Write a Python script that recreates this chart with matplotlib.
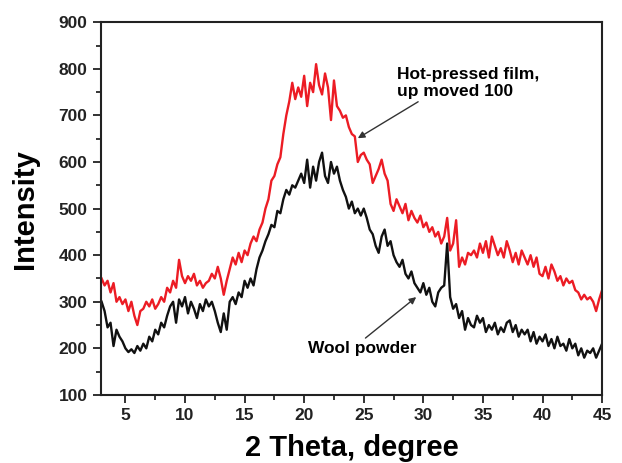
import numpy as np
import matplotlib
matplotlib.use("Agg")
import matplotlib.pyplot as plt
from matplotlib.ticker import MultipleLocator

plt.rcParams['font.family'] = ['Liberation Sans', 'DejaVu Sans']

# 2-theta scan grid, 3..45 deg in 0.25 deg steps
two_theta = np.arange(3.0, 45.001, 0.25)

# wool powder (black)
wool = [
    300, 280, 245, 255, 205, 240, 225, 215,
    200, 192, 198, 190, 205, 195, 210, 200,
    225, 215, 240, 230, 255, 245, 270, 290,
    300, 255, 305, 290, 310, 275, 300, 285,
    265, 295, 280, 305, 290, 300, 280, 255,
    235, 275, 240, 300, 310, 295, 320, 310,
    345, 330, 350, 335, 370, 395, 410, 430,
    445, 465, 460, 495, 490, 520, 540, 530,
    550, 545, 560, 575, 555, 605, 545, 590,
    560, 600, 620, 570, 555, 600, 575, 590,
    560, 540, 525, 500, 515, 490, 500, 485,
    500, 480, 455, 445, 420, 405, 440, 455,
    420, 430, 400, 385, 375, 390, 360, 350,
    365, 340, 330, 320, 340, 315, 330, 300,
    290, 320, 330, 335, 425, 310, 285, 295,
    265, 280, 240, 265, 250, 245, 270, 255,
    265, 235, 250, 240, 255, 230, 245, 235,
    255, 260, 235, 250, 225, 240, 230, 240,
    215, 235, 210, 225, 215, 230, 205, 220,
    200, 225, 205, 210, 195, 220, 200, 210,
    185, 200, 180, 195, 190, 200, 180, 195,
    210,
]

# hot-pressed film, shifted up by 100 (red)
film = [
    350, 335, 345, 320, 340, 300, 310, 295,
    305, 280, 300, 270, 250, 280, 285, 300,
    290, 305, 285, 295, 310, 300, 330, 320,
    345, 330, 390, 355, 340, 355, 345, 360,
    335, 345, 330, 340, 345, 360, 350, 375,
    350, 315, 345, 370, 395, 380, 405, 385,
    410, 400, 425, 440, 430, 455, 470, 500,
    520, 560, 570, 595, 610, 660, 700, 730,
    770, 735, 760, 740, 785, 720, 770, 750,
    810, 765, 745, 790, 760, 690, 775, 720,
    710, 695, 700, 675, 660, 655, 600, 615,
    620, 605, 595, 555, 570, 585, 605, 575,
    560, 510, 495, 520, 505, 490, 510, 475,
    495, 480, 470, 485, 460, 470, 450, 460,
    440, 450, 425, 440, 480, 410, 425, 475,
    375, 395, 380, 405, 400, 410, 395, 425,
    405, 430, 395, 440, 420, 400, 415, 395,
    430, 410, 385, 405, 380, 410, 395, 380,
    400, 375, 395, 360, 355, 375, 350, 380,
    365, 345, 355, 335, 350, 340, 345, 325,
    320, 305, 315, 305, 310, 300, 280, 305,
    325,
]

fig = plt.figure(figsize=(6.22, 4.63), dpi=100)
ax = fig.add_axes([0.162, 0.147, 0.806, 0.805])

ax.plot(two_theta, film, color='#ec1c24', lw=1.7)
ax.plot(two_theta, wool, color='#111111', lw=1.7)

ax.set_xlim(2.93, 45)
ax.set_ylim(100, 900)
ax.xaxis.set_major_locator(MultipleLocator(5))
ax.xaxis.set_minor_locator(MultipleLocator(2.5))
ax.yaxis.set_major_locator(MultipleLocator(100))
ax.yaxis.set_minor_locator(MultipleLocator(50))
ax.tick_params(which='major', direction='out', length=6, width=1.3, labelsize=12.5, colors='#222222')
ax.tick_params(which='minor', direction='out', length=3.5, width=1.1)
for lab in ax.get_xticklabels() + ax.get_yticklabels():
    lab.set_fontweight('bold')
for s in ax.spines.values():
    s.set_linewidth(1.5)
    s.set_color('#222222')

ax.set_xlabel("2 Theta, degree", fontsize=21, fontweight='bold', labelpad=8)
ax.set_ylabel("Intensity", fontsize=21, fontweight='bold', labelpad=14)

ax.annotate("Hot-pressed film,\nup moved 100", xy=(24.5, 651), xytext=(27.8, 770),
            fontsize=12.5, fontweight='bold', ha='left', va='center', linespacing=1.2,
            arrowprops=dict(arrowstyle='-|>', color='#333333', lw=1, mutation_scale=10,
                            shrinkA=0, shrinkB=0, relpos=(0.18, 0.0)))
ax.annotate("Wool powder", xy=(29.4, 310), xytext=(20.3, 200),
            fontsize=12.5, fontweight='bold', ha='left', va='center',
            arrowprops=dict(arrowstyle='-|>', color='#333333', lw=1, mutation_scale=10,
                            shrinkA=0, shrinkB=0, relpos=(0.5, 1.0)))

fig.savefig("out.png", dpi=100)
